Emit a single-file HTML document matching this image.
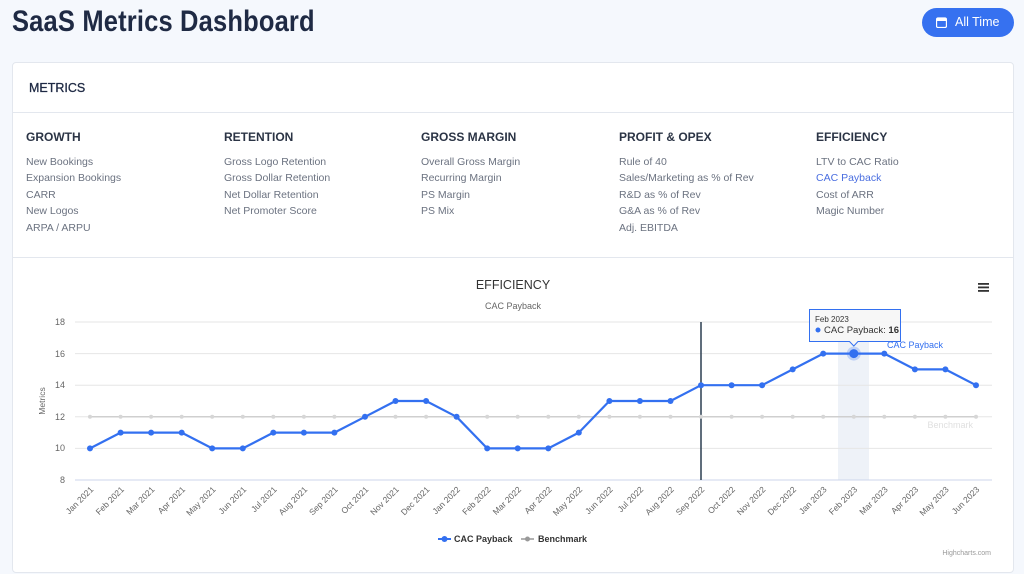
<!DOCTYPE html>
<html><head><meta charset="utf-8"><style>
*{margin:0;padding:0;box-sizing:border-box}
body{width:1024px;height:574px;background:#f5f8fd;font-family:"Liberation Sans",sans-serif;position:relative;overflow:hidden}
.a{position:absolute;white-space:nowrap}
h1{position:absolute;left:12px;top:5px;font-size:30px;font-weight:bold;color:#1f2a44;letter-spacing:0.2px;transform:scaleX(0.85);transform-origin:left top;white-space:nowrap}
.btn{position:absolute;left:922px;top:8px;width:92px;height:29px;border-radius:15px;background:#3671f0;color:#fff;font-size:12.5px;line-height:29px;padding-left:33px}
.card{position:absolute;left:12px;top:62px;width:1002px;height:511px;background:#fff;border:1px solid #e3e7ee;border-radius:4px}
.hd{font-size:12px;font-weight:bold;color:#2b3445}
.it{font-size:10.5px;color:#6b7280;line-height:16.4px}
</style></head><body>
<h1>SaaS Metrics Dashboard</h1>
<div class="btn"><svg style="position:absolute;left:14px;top:9px" width="11" height="11" viewBox="0 0 11 11"><rect x="0.5" y="1" width="10" height="9.5" rx="1.5" fill="none" stroke="#fff" stroke-width="1.3"/><rect x="0.5" y="1" width="10" height="3" fill="#fff"/></svg>All Time</div>
<div class="card"></div>
<div class="a hd" style="left:29px;top:81px;font-size:12.5px;font-weight:normal;color:#1f2a44;-webkit-text-stroke:0.3px #1f2a44">METRICS</div>
<div class="a" style="left:13px;top:112px;width:1000px;height:1px;background:#e3e7ee"></div>
<div class="a" style="left:13px;top:257px;width:1000px;height:1px;background:#e3e7ee"></div>

<div class="a hd" style="left:26px;top:130px">GROWTH</div>
<div class="a it" style="left:26px;top:154px">New Bookings<br>Expansion Bookings<br>CARR<br>New Logos<br>ARPA / ARPU</div>
<div class="a hd" style="left:224px;top:130px">RETENTION</div>
<div class="a it" style="left:224px;top:154px">Gross Logo Retention<br>Gross Dollar Retention<br>Net Dollar Retention<br>Net Promoter Score</div>
<div class="a hd" style="left:421px;top:130px">GROSS MARGIN</div>
<div class="a it" style="left:421px;top:154px">Overall Gross Margin<br>Recurring Margin<br>PS Margin<br>PS Mix</div>
<div class="a hd" style="left:619px;top:130px">PROFIT &amp; OPEX</div>
<div class="a it" style="left:619px;top:154px">Rule of 40<br>Sales/Marketing as % of Rev<br>R&amp;D as % of Rev<br>G&amp;A as % of Rev<br>Adj. EBITDA</div>
<div class="a hd" style="left:816px;top:130px">EFFICIENCY</div>
<div class="a it" style="left:816px;top:154px">LTV to CAC Ratio<br><span style="color:#4a6ee0">CAC Payback</span><br>Cost of ARR<br>Magic Number</div>

<svg class="a" style="left:0;top:0" width="1024" height="574" font-family="Liberation Sans, sans-serif">
<text x="513" y="289" text-anchor="middle" font-size="12.5" fill="#333">EFFICIENCY</text>
<text x="513" y="309" text-anchor="middle" font-size="9" fill="#666">CAC Payback</text>
<g fill="#333"><rect x="978" y="283" width="11" height="1.8"/><rect x="978" y="286.5" width="11" height="1.8"/><rect x="978" y="290" width="11" height="1.8"/></g>
<rect x="838" y="322" width="31" height="158" fill="#eef2f8"/>
<g stroke="#e6e6e6" stroke-width="1">
<line x1="75" y1="322" x2="992" y2="322"/><line x1="75" y1="353.6" x2="992" y2="353.6"/><line x1="75" y1="385.2" x2="992" y2="385.2"/><line x1="75" y1="416.8" x2="992" y2="416.8"/><line x1="75" y1="448.4" x2="992" y2="448.4"/></g>
<line x1="75" y1="480" x2="992" y2="480" stroke="#ccd6eb"/>
<g font-size="9" fill="#666" text-anchor="end">
<text x="65" y="325">18</text><text x="65" y="357">16</text><text x="65" y="388">14</text><text x="65" y="420">12</text><text x="65" y="451">10</text><text x="65" y="483">8</text></g>
<text transform="translate(45,401) rotate(-90)" text-anchor="middle" font-size="8.5" fill="#666">Metrics</text>
<line x1="701" y1="322" x2="701" y2="480" stroke="#2c3e50" stroke-width="1.5"/>
<line x1="90" y1="416.8" x2="976" y2="416.8" stroke="#cfcfcf" stroke-width="1.5"/>
<g fill="#d6d6d6">
<circle cx="90" cy="416.8" r="2"/><circle cx="120.6" cy="416.8" r="2"/><circle cx="151.1" cy="416.8" r="2"/><circle cx="181.7" cy="416.8" r="2"/><circle cx="212.2" cy="416.8" r="2"/><circle cx="242.8" cy="416.8" r="2"/><circle cx="273.3" cy="416.8" r="2"/><circle cx="303.9" cy="416.8" r="2"/><circle cx="334.4" cy="416.8" r="2"/><circle cx="365" cy="416.8" r="2"/><circle cx="395.5" cy="416.8" r="2"/><circle cx="426.1" cy="416.8" r="2"/><circle cx="456.6" cy="416.8" r="2"/><circle cx="487.2" cy="416.8" r="2"/><circle cx="517.7" cy="416.8" r="2"/><circle cx="548.3" cy="416.8" r="2"/><circle cx="578.8" cy="416.8" r="2"/><circle cx="609.4" cy="416.8" r="2"/><circle cx="639.9" cy="416.8" r="2"/><circle cx="670.5" cy="416.8" r="2"/><circle cx="701" cy="416.8" r="2"/><circle cx="731.6" cy="416.8" r="2"/><circle cx="762.1" cy="416.8" r="2"/><circle cx="792.7" cy="416.8" r="2"/><circle cx="823.2" cy="416.8" r="2"/><circle cx="853.8" cy="416.8" r="2"/><circle cx="884.3" cy="416.8" r="2"/><circle cx="914.9" cy="416.8" r="2"/><circle cx="945.4" cy="416.8" r="2"/><circle cx="976" cy="416.8" r="2"/></g>
<text x="973" y="428" text-anchor="end" font-size="9" fill="#e0e0e0">Benchmark</text>
<polyline fill="none" stroke="#3370f0" stroke-width="2.2" stroke-linejoin="round" points="90,448.4 120.6,432.6 151.1,432.6 181.7,432.6 212.2,448.4 242.8,448.4 273.3,432.6 303.9,432.6 334.4,432.6 365,416.8 395.5,401 426.1,401 456.6,416.8 487.2,448.4 517.7,448.4 548.3,448.4 578.8,432.6 609.4,401 639.9,401 670.5,401 701,385.2 731.6,385.2 762.1,385.2 792.7,369.4 823.2,353.6 853.8,353.6 884.3,353.6 914.9,369.4 945.4,369.4 976,385.2"/>
<g fill="#3370f0">
<circle cx="90" cy="448.4" r="3"/><circle cx="120.6" cy="432.6" r="3"/><circle cx="151.1" cy="432.6" r="3"/><circle cx="181.7" cy="432.6" r="3"/><circle cx="212.2" cy="448.4" r="3"/><circle cx="242.8" cy="448.4" r="3"/><circle cx="273.3" cy="432.6" r="3"/><circle cx="303.9" cy="432.6" r="3"/><circle cx="334.4" cy="432.6" r="3"/><circle cx="365" cy="416.8" r="3"/><circle cx="395.5" cy="401" r="3"/><circle cx="426.1" cy="401" r="3"/><circle cx="456.6" cy="416.8" r="3"/><circle cx="487.2" cy="448.4" r="3"/><circle cx="517.7" cy="448.4" r="3"/><circle cx="548.3" cy="448.4" r="3"/><circle cx="578.8" cy="432.6" r="3"/><circle cx="609.4" cy="401" r="3"/><circle cx="639.9" cy="401" r="3"/><circle cx="670.5" cy="401" r="3"/><circle cx="701" cy="385.2" r="3"/><circle cx="731.6" cy="385.2" r="3"/><circle cx="762.1" cy="385.2" r="3"/><circle cx="792.7" cy="369.4" r="3"/><circle cx="823.2" cy="353.6" r="3"/><circle cx="884.3" cy="353.6" r="3"/><circle cx="914.9" cy="369.4" r="3"/><circle cx="945.4" cy="369.4" r="3"/><circle cx="976" cy="385.2" r="3"/></g>
<circle cx="853.8" cy="353.6" r="7" fill="#3370f0" opacity="0.25"/>
<circle cx="853.8" cy="353.6" r="4.5" fill="#3370f0"/>
<text x="887" y="348" font-size="9" fill="#3370f0">CAC Payback</text>
<path d="M809.5,309.5 H900.5 V341.5 H858 L853.8,346 L849.5,341.5 H809.5 Z" fill="#f7f7f7" fill-opacity="0.95" stroke="#3370f0" stroke-width="1"/>
<text x="815" y="322" font-size="8" fill="#333">Feb 2023</text>
<circle cx="818" cy="330" r="2.5" fill="#3370f0"/>
<text x="824" y="333" font-size="9.5" fill="#333">CAC Payback: <tspan font-weight="bold">16</tspan></text>
<g font-size="8.5" fill="#666" text-anchor="end">
<text transform="translate(94,490) rotate(-45)">Jan 2021</text><text transform="translate(124.6,490) rotate(-45)">Feb 2021</text><text transform="translate(155.1,490) rotate(-45)">Mar 2021</text><text transform="translate(185.7,490) rotate(-45)">Apr 2021</text><text transform="translate(216.2,490) rotate(-45)">May 2021</text><text transform="translate(246.8,490) rotate(-45)">Jun 2021</text><text transform="translate(277.3,490) rotate(-45)">Jul 2021</text><text transform="translate(307.9,490) rotate(-45)">Aug 2021</text><text transform="translate(338.4,490) rotate(-45)">Sep 2021</text><text transform="translate(369,490) rotate(-45)">Oct 2021</text><text transform="translate(399.5,490) rotate(-45)">Nov 2021</text><text transform="translate(430.1,490) rotate(-45)">Dec 2021</text><text transform="translate(460.6,490) rotate(-45)">Jan 2022</text><text transform="translate(491.2,490) rotate(-45)">Feb 2022</text><text transform="translate(521.7,490) rotate(-45)">Mar 2022</text><text transform="translate(552.3,490) rotate(-45)">Apr 2022</text><text transform="translate(582.8,490) rotate(-45)">May 2022</text><text transform="translate(613.4,490) rotate(-45)">Jun 2022</text><text transform="translate(643.9,490) rotate(-45)">Jul 2022</text><text transform="translate(674.5,490) rotate(-45)">Aug 2022</text><text transform="translate(705,490) rotate(-45)">Sep 2022</text><text transform="translate(735.6,490) rotate(-45)">Oct 2022</text><text transform="translate(766.1,490) rotate(-45)">Nov 2022</text><text transform="translate(796.7,490) rotate(-45)">Dec 2022</text><text transform="translate(827.2,490) rotate(-45)">Jan 2023</text><text transform="translate(857.8,490) rotate(-45)">Feb 2023</text><text transform="translate(888.3,490) rotate(-45)">Mar 2023</text><text transform="translate(918.9,490) rotate(-45)">Apr 2023</text><text transform="translate(949.4,490) rotate(-45)">May 2023</text><text transform="translate(980,490) rotate(-45)">Jun 2023</text></g>
<line x1="438" y1="539" x2="451" y2="539" stroke="#3370f0" stroke-width="2"/><circle cx="444.5" cy="539" r="3" fill="#3370f0"/>
<text x="454" y="542" font-size="9" font-weight="bold" fill="#333">CAC Payback</text>
<line x1="521" y1="539" x2="534" y2="539" stroke="#999" stroke-width="1.5"/><circle cx="527.5" cy="539" r="2.5" fill="#999"/>
<text x="538" y="542" font-size="9" font-weight="bold" fill="#333">Benchmark</text>
<text x="991" y="555" text-anchor="end" font-size="7" fill="#999">Highcharts.com</text>
</svg>
</body></html>
